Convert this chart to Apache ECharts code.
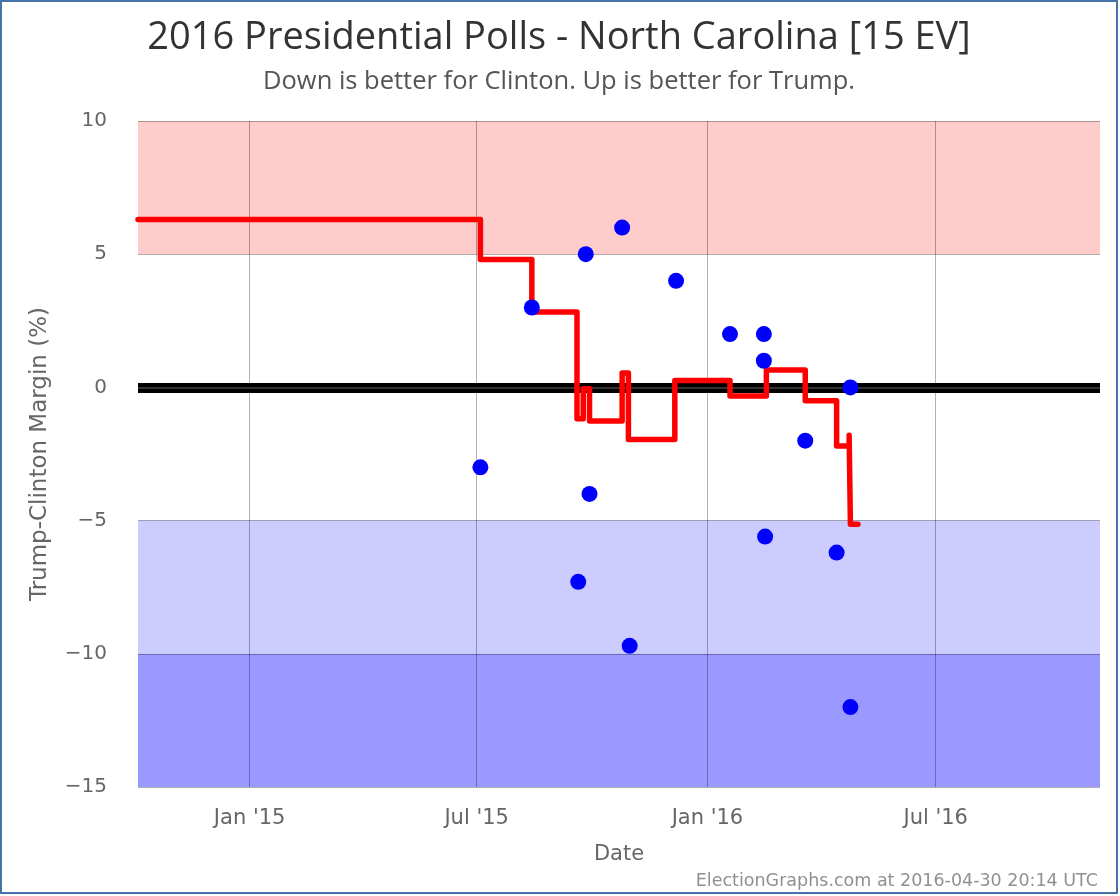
<!DOCTYPE html>
<html>
<head>
<meta charset="utf-8">
<script src="https://cdn.jsdelivr.net/npm/echarts@6/dist/echarts.min.js"></script>
<style>
  html, body { margin: 0; padding: 0; background: #fff; }
  #wrap { position: relative; width: 1120px; height: 896px; }
  #chart { position: absolute; left: 0; top: 0; width: 1120px; height: 896px; }
  #frame { position: absolute; left: 0; top: 0; width: 1118px; height: 894px; box-sizing: border-box; border: 2px solid #4572A7; pointer-events: none; }
</style>
</head>
<body>
<div id="wrap"><div id="chart"></div><div id="frame"></div></div>
<script>
// ---- data ----
const titleText = '2016 Presidential Polls - North Carolina [15 EV]';
const subtitleText = 'Down is better for Clinton. Up is better for Trump.';
const footerText = 'ElectionGraphs.com at 2016-04-30 20:14 UTC';
const yAxisName = 'Trump-Clinton Margin (%)';
const xAxisName = 'Date';

const xRange = ['2014-10-04', '2016-11-09'];
const tickDates = ['2015-01-01', '2015-07-01', '2016-01-01', '2016-07-01'];
const tickLabels = ["Jan '15", "Jul '15", "Jan '16", "Jul '16"];

const pollDates = ['2015-07-04','2015-08-14','2015-09-20','2015-09-26','2015-09-29','2015-10-25','2015-10-31','2015-12-07','2016-01-19','2016-02-15','2016-02-15','2016-02-16','2016-03-19','2016-04-13','2016-04-24','2016-04-24'];
const pollMargins = [-3, 3, -7.3, 5, -4, 6, -9.7, 4, 2, 2, 1, -5.6, -2, -6.2, 0, -12];

const avgDates = ['2014-10-04','2015-07-04','2015-08-14','2015-09-19','2015-09-24','2015-09-29','2015-10-25','2015-10-30','2015-12-06','2016-01-19','2016-02-17','2016-03-19','2016-04-13','2016-04-23','2016-04-24','2016-04-30'];
const avgMargins = [6.3, 4.8, 2.83, -1.18, -0.05, -1.26, 0.54, -1.96, 0.26, -0.32, 0.65, -0.5, -2.2, -1.8, -5.14, -5.14];

const bandFrom = [5, -10, -15];
const bandTo = [10, -5, -10];
const bandColors = ['#FFCCCC', '#CCCCFF', '#9999FF'];

// ---- helpers ----
function t(s) { const p = s.split('-').map(Number); return Date.UTC(p[0], p[1] - 1, p[2]); }
const tickVals = tickDates.map(t);

const chart = echarts.init(document.getElementById('chart'), null, { renderer: 'canvas' });
const labelFont = 'DejaVu Sans';

const option = {
  animation: false,
  backgroundColor: '#ffffff',
  grid: { left: 138, right: 20, top: 121, bottom: 109, containLabel: false },
  graphic: [
    { type: 'text', x: 559, y: 38, style: { text: titleText, fontFamily: 'Open Sans', fontSize: 38, fill: '#333333', align: 'center', verticalAlign: 'middle' } },
    { type: 'text', x: 559, y: 82, style: { text: subtitleText, fontFamily: 'Open Sans', fontSize: 25.5, fill: '#555555', align: 'center', verticalAlign: 'middle' } },
    { type: 'text', x: 1098, y: 881, style: { text: footerText, fontFamily: labelFont, fontSize: 17.5, fill: '#909090', align: 'right', verticalAlign: 'middle' } }
  ],
  xAxis: {
    type: 'value',
    min: t(xRange[0]), max: t(xRange[1]),
    z: 1.5,
    name: xAxisName, nameLocation: 'middle', nameGap: 57,
    nameTextStyle: { fontFamily: labelFont, fontSize: 21, color: '#666666' },
    axisLine: { show: true, lineStyle: { color: '#C0D0E0', width: 1 } },
    axisTick: { show: false },
    splitLine: { show: false },
    axisLabel: {
      customValues: tickVals,
      margin: 21,
      fontFamily: labelFont, fontSize: 21, color: '#666666',
      formatter: function (v) { const i = tickVals.indexOf(v); return i >= 0 ? tickLabels[i] : ''; }
    }
  },
  yAxis: {
    type: 'value', min: -15, max: 10, interval: 5,
    z: 1.5,
    name: yAxisName, nameLocation: 'middle', nameGap: 86, nameRotate: 90,
    nameTextStyle: { fontFamily: labelFont, fontSize: 23, color: '#666666' },
    axisLine: { show: false }, axisTick: { show: false },
    splitLine: { show: true, lineStyle: { color: 'rgba(0,0,0,0.3)', width: 1 } },
    axisLabel: {
      margin: 31, fontFamily: labelFont, fontSize: 20, color: '#666666',
      formatter: function (v) { return String(v).replace('-', '\u2212'); }
    }
  },
  series: [
    {
      type: 'line', data: [], silent: true,
      markArea: {
        silent: true, z: 1,
        data: bandFrom.map((f, i) => [
          { yAxis: f, itemStyle: { color: bandColors[i] } },
          { yAxis: bandTo[i] }
        ])
      },
      markLine: {
        silent: true, z: 1.6, symbol: 'none', label: { show: false },
        data: tickVals.map(v => ({ xAxis: v, lineStyle: { color: 'rgba(0,0,0,0.3)', width: 1, type: 'solid' } }))
      }
    },
    {
      type: 'line', data: [], silent: true,
      markLine: {
        silent: true, z: 1.8, symbol: 'none', label: { show: false },
        data: [
          { yAxis: 0, lineStyle: { color: '#000000', width: 10, type: 'solid' } },
          { yAxis: 0, lineStyle: { color: '#333333', width: 2, type: 'solid' } }
        ]
      }
    },
    {
      type: 'line', z: 3,
      step: 'end', showSymbol: false, silent: true,
      lineStyle: { color: '#FF0000', width: 5.5, cap: 'round', join: 'round' },
      data: avgDates.map((d, i) => [t(d), avgMargins[i]])
    },
    {
      type: 'scatter', z: 4, symbol: 'circle', symbolSize: 16, silent: true,
      itemStyle: { color: '#0000FF', opacity: 1 },
      data: pollDates.map((d, i) => [t(d), pollMargins[i]])
    }
  ]
};
chart.setOption(option);
</script>
</body>
</html>
